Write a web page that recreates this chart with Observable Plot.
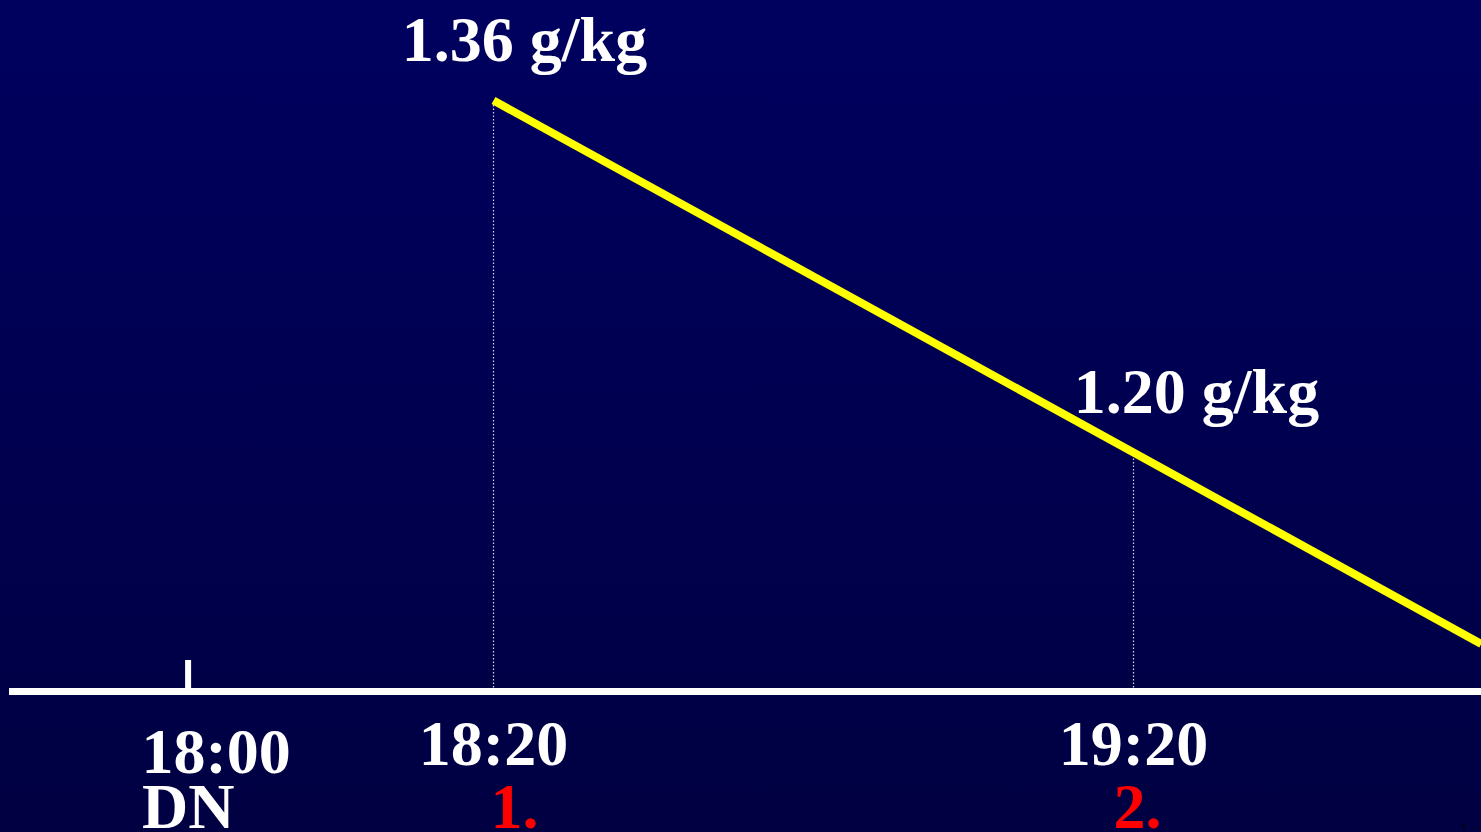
<!DOCTYPE html>
<html>
<head>
<meta charset="utf-8">
<script src="https://cdn.jsdelivr.net/npm/d3@7"></script>
<script src="https://cdn.jsdelivr.net/npm/@observablehq/plot@0.6"></script>
<style>
  html, body { margin: 0; padding: 0; overflow: hidden; background: #000050; }
  #chart svg { display: block; }
</style>
</head>
<body>
<div id="chart"></div>
<script>
// minutes after 18:00 (schematic, non-uniform time axis)
const tickTimes = [0, 20, 80];
const tickLabels = ["18:00", "18:20", "19:20"];
const subLabels = ["DN", "1.", "2."];

// measured samples
const sampleTimes = [20, 80];
const sampleValues = [1.36, 1.20];
const sampleLabels = ["1.36 g/kg", "1.20 g/kg"];

// yellow trend line (continues off the right edge)
const lineTimes = [20, 80, 112.6];
const lineValues = [1.36, 1.20, 1.113];

// value at the axis baseline
const baseValue = 1.0914;

const samples = sampleTimes.map((t, i) => ({t, v: sampleValues[i], label: sampleLabels[i]}));
const line = lineTimes.map((t, i) => ({t, v: lineValues[i]}));
const ticks = tickTimes.map((t, i) => ({t, label: tickLabels[i], sub: subLabels[i]}));

const font = {fontFamily: "'Liberation Serif', 'Times New Roman', serif", fontWeight: "bold", fontSize: 64};

const chart = Plot.plot({
  width: 1481,
  height: 832,
  marginLeft: 12,
  marginRight: 0,
  marginTop: 0,
  marginBottom: 141,
  style: {background: "linear-gradient(#00005f, #000042)", overflow: "visible"},
  x: {type: "linear", domain: [-11.5, 20, 80], range: [12, 493, 1133], axis: null},
  y: {domain: [baseValue, 1.36], range: [691, 100], axis: null},
  marks: [
    // dotted drop lines
    Plot.ruleX(samples, {x: "t", y1: baseValue, y2: "v", stroke: "#d8d8e8", strokeWidth: 1.2, strokeDasharray: "1.5,2"}),
    // axis line
    Plot.frame({anchor: "bottom", stroke: "white", strokeWidth: 7}),
    // tick at 18:00
    Plot.axisX({ticks: [0], tickSize: -31, tickFormat: () => "", stroke: "white", strokeWidth: 6}),
    // trend line
    Plot.line(line, {x: "t", y: "v", stroke: "#ffff00", strokeWidth: 8, strokeLinecap: "butt"}),
    // value labels
    Plot.text(samples.slice(0, 1), {x: "t", y: "v", text: "label", fill: "white", textAnchor: "middle", lineAnchor: "bottom", dx: 31, dy: -40, ...font}),
    Plot.text(samples.slice(1), {x: "t", y: "v", text: "label", fill: "white", textAnchor: "middle", lineAnchor: "bottom", dx: 63, dy: -40, ...font}),
    // time labels
    Plot.text(ticks.slice(0, 1), {x: "t", frameAnchor: "bottom", text: "label", fill: "white", textAnchor: "middle", lineAnchor: "bottom", dx: 28, dy: 81, ...font}),
    Plot.text(ticks.slice(1), {x: "t", frameAnchor: "bottom", text: "label", fill: "white", textAnchor: "middle", lineAnchor: "bottom", dx: 0, dy: 73, ...font}),
    // sub labels
    Plot.text(ticks.slice(0, 1), {x: "t", frameAnchor: "bottom", text: "sub", fill: "white", textAnchor: "start", lineAnchor: "bottom", dx: -46, dy: 136, ...font}),
    Plot.text(ticks.slice(1, 2), {x: "t", frameAnchor: "bottom", text: "sub", fill: "#ff0000", textAnchor: "middle", lineAnchor: "bottom", dx: 21, dy: 136, ...font}),
    Plot.text(ticks.slice(2), {x: "t", frameAnchor: "bottom", text: "sub", fill: "#ff0000", textAnchor: "middle", lineAnchor: "bottom", dx: 4, dy: 136, ...font})
  ]
});
document.getElementById("chart").appendChild(chart);
</script>
</body>
</html>
